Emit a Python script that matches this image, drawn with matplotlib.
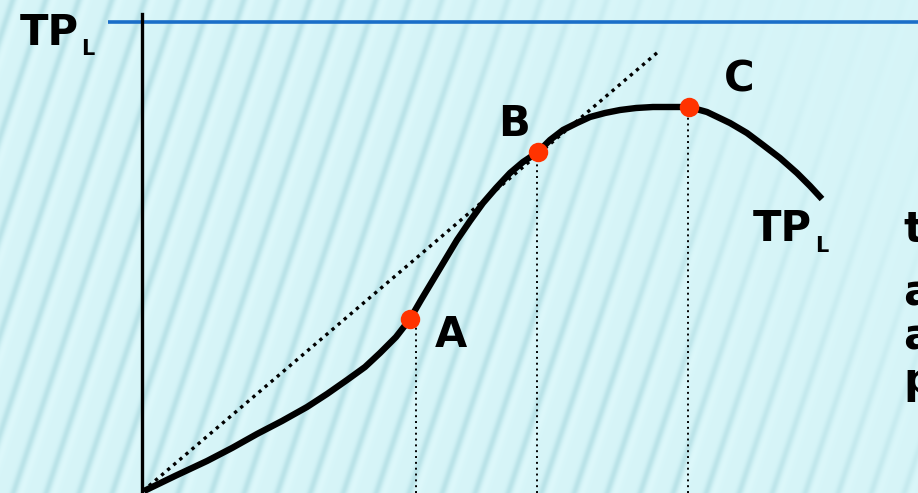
import numpy as np
import matplotlib.pyplot as plt

# total product of labour curve (labour on x, output on y)
labour = [1, 32, 64, 89, 114, 139, 164, 184, 204, 222, 237, 253, 267, 278, 290, 302, 314,
          327, 340, 353, 367, 380, 395, 407, 420, 434, 447, 462, 477, 493, 510, 527, 546,
          564, 587, 604, 620, 637, 654, 667, 679]
output = [0, 15, 30, 43, 57, 70, 84, 97, 111, 124, 138, 154, 172, 191, 211, 231, 251,
          270, 288, 303, 318, 329, 339, 351, 361, 368, 374, 378, 381, 383, 384, 384, 384,
          379, 368, 358, 346, 333, 318, 305, 292]

# marked points A, B, C
pt_names = ['A', 'B', 'C']
pt_x = [267, 395, 546]
pt_y = [172, 339, 384]
drop_x = [273, 394, 545]

# ray from the origin touching the curve at B
ray_x = [0, 515]
ray_y = [0, 439]

tp_max = 469

W, H = 918, 493
fig = plt.figure(figsize=(W / 100, H / 100), dpi=100)
ax = fig.add_axes([0, 0, 1, 1])
x0, x1 = -143, W - 143
y0, y1 = -2, H - 2
ax.set_xlim(x0, x1)
ax.set_ylim(y0, y1)
ax.axis('off')

# striped background, fading out towards the top right
px, py = np.meshgrid(np.arange(W), np.arange(H))
phase = (px + py / 3.0) % 33.0
dark = np.exp(-((phase - 12) / 3.6) ** 2)
light = np.exp(-((phase - 20) / 4.0) ** 2)
d = px + 0.8 * (H - py)
fade = np.clip(1 - (d - 700) / 450.0, 0, 1) * 0.9 + 0.1
base = np.array([0.84, 0.96, 0.972])
dk = np.array([0.73, 0.89, 0.91])
lt = np.array([0.865, 0.972, 0.982])
img = base[None, None, :] * np.ones((H, W, 1))
img = img + (dk - base)[None, None, :] * (dark * fade)[..., None]
img = img + (lt - base)[None, None, :] * (light * fade)[..., None]
ax.imshow(np.clip(img, 0, 1), extent=(x0, x1, y0, y1), origin='upper',
          aspect='auto', zorder=0, interpolation='bilinear')

# TP max line and vertical axis
ax.plot([-35, x1], [tp_max, tp_max], color='#1a6ec8', lw=2.6, zorder=2,
        solid_capstyle='butt')
ax.plot([-1, -1], [y0, 477], color='black', lw=2.4, zorder=3)

# ray and drop lines
ax.plot(ray_x, ray_y, color='black', lw=2.4, ls=(0, (1, 1.4)), zorder=3)
for xd, yd in zip(drop_x, pt_y):
    ax.plot([xd, xd], [y0, yd], color='black', lw=1.4, ls=(0, (1, 2)), zorder=3)

ax.plot(labour, output, color='black', lw=4.6, solid_joinstyle='round',
        solid_capstyle='butt', zorder=4)
ax.plot(pt_x, pt_y, 'o', color='#ff3300', ms=14, mec='none', zorder=5)

bold = dict(fontweight='bold', fontsize=30, color='black', va='baseline',
            family='DejaVu Sans')
ax.text(-123, 446, 'TP', **bold)
ax.text(-62, 436, 'L', fontweight='bold', fontsize=15, va='baseline')
ax.text(610, 250, 'TP', **bold)
ax.text(672, 239, 'L', fontweight='bold', fontsize=15, va='baseline')

label_pos = [(292, 144), (355, 355), (581, 399)]
for name, (lx, ly) in zip(pt_names, label_pos):
    ax.text(lx, ly, name, **bold)

# right-hand caption, running off the edge
side = dict(fontweight='bold', fontsize=31, color='black', va='baseline')
for s, yb in zip(['t', 'a', 'a', 'p'], [249, 186, 141, 98]):
    ax.text(760, yb, s, **side)

fig.savefig('out.png', dpi=100)
